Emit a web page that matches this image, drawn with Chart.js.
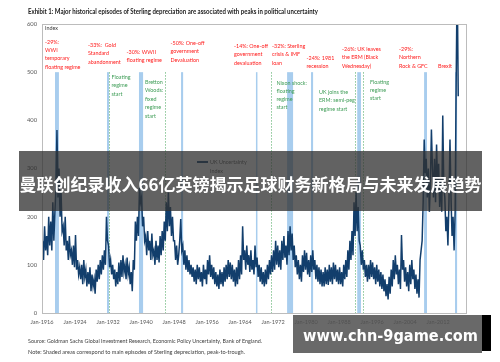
<!DOCTYPE html>
<html><head><meta charset="utf-8">
<script src="https://cdn.jsdelivr.net/npm/chart.js@4/dist/chart.umd.min.js"></script>
<style>
html,body{margin:0;padding:0;background:#fff;}
#wrap{position:relative;width:500px;height:362px;overflow:hidden;font-family:Lato,"Liberation Sans",sans-serif;}
#c{position:absolute;left:0;top:0;}
.t{position:absolute;white-space:nowrap;transform-origin:0 0;}
.ann{position:absolute;white-space:nowrap;font-size:5.4px;line-height:8.4px;}
.red{color:#ff1a1a;}
.grn{color:#3f9d57;}
#banner{position:absolute;left:19px;top:151px;width:463px;height:60px;background:rgba(48,48,48,0.76);}
#bannerTxt{position:absolute;left:19px;top:172px;width:463px;text-align:center;color:#fff;font-family:"Noto Sans CJK SC",sans-serif;font-weight:700;font-size:17px;line-height:24px;white-space:nowrap;}
#wm{position:absolute;left:293px;top:315px;width:189px;height:38px;background:rgba(80,80,80,0.86);}
#wmBlack{position:absolute;left:482px;top:315px;width:9px;height:36px;background:#000;}
#wmTxt{position:absolute;left:303px;top:326px;color:#fff;font-family:"DejaVu Sans",sans-serif;font-weight:700;font-size:16px;line-height:20px;white-space:nowrap;transform-origin:0 0;}
</style></head><body>
<div id="wrap">
<canvas id="c" width="500" height="362"></canvas>
<div class="t" id="title" data-w="290" style="left:28px;top:7px;font-size:7px;font-weight:700;color:#1a1a1a;">Exhibit 1: Major historical episodes of Sterling depreciation are associated with peaks in political uncertainty</div>
<div class="t" data-w="234" style="left:28px;top:336.5px;font-size:5.8px;color:#404040;">Source: Goldman Sachs Global Investment Research, Economic Policy Uncertainty, Bank of England.</div>
<div class="t" data-w="217" style="left:28px;top:347.5px;font-size:5.8px;color:#404040;">Note: Shaded areas correspond to main episodes of Sterling depreciation, peak-to-trough.</div>

<div class="ann" style="left:45px;top:24px;color:#404040;">Index</div>

<div class="ann red" style="left:45px;top:37.5px;">-29%:<br>WWI<br>temporary<br>floating regime</div>
<div class="ann red" style="left:88px;top:40.8px;">-33%:&nbsp; Gold<br>Standard<br>abandonment</div>
<div class="ann red" style="left:126.5px;top:48px;">-30%: WWII<br>floating regime</div>
<div class="ann red" style="left:170.5px;top:39px;">-50%: One-off<br>government<br>Devaluation</div>
<div class="ann red" style="left:234px;top:41.8px;">-14%: One-off<br>government<br>devaluation</div>
<div class="ann red" style="left:272px;top:41.8px;">-32%: Sterling<br>crisis &amp; IMF<br>loan</div>
<div class="ann red" style="left:306.5px;top:54px;">-24%: 1981<br>recession</div>
<div class="ann red" style="left:342px;top:45px;">-26%: UK leaves<br>the ERM (Black<br>Wednesday)</div>
<div class="ann red" style="left:399px;top:45px;">-29%:<br>Northern<br>Rock &amp; GFC</div>
<div class="ann red" style="left:438px;top:61.5px;">Brexit</div>

<div class="ann grn" style="left:111.5px;top:72.5px;line-height:8.8px;">Floating<br>regime<br>start</div>
<div class="ann grn" style="left:145px;top:77.5px;line-height:8.5px;">Bretton<br>Woods:<br>fixed<br>regime<br>start</div>
<div class="ann grn" style="left:276.5px;top:78.5px;line-height:8.2px;">Nixon shock:<br>floating<br>regime<br>start</div>
<div class="ann grn" style="left:319px;top:88px;line-height:8.3px;">UK joins the<br>ERM: semi-peg<br>regime start</div>
<div class="ann grn" style="left:370px;top:77.5px;line-height:8.3px;">Floating<br>regime<br>start</div>

<div id="banner"></div>
<div id="bannerTxt">曼联创纪录收入66亿英镑揭示足球财务新格局与未来发展趋势</div>
<div id="wm"></div>
<div id="wmBlack"></div>
<div id="wmTxt" data-w="175">www.chn-9game.com</div>
</div>
<script>
// ---- data ----
const startYear = 1916;
const pointsPerYear = 4;
const uncertainty = [
 150,110,180,130, 160,120,200,140, 190,130,230,150, 210,260,380,240, 300,200,250,170,
 180,140,200,130, 150,110,160,120, 130,100,140,95,  162,90,110,80,   95,70,100,60,
 110,75,90,55,    85,60,95,45,     80,55,70,40,     90,65,100,70,    110,80,120,90,
 130,100,200,150, 140,95,110,80,   100,70,90,55,    85,60,105,65,    110,75,120,85,
 100,70,115,80,   95,60,85,45,     110,90,190,150,  200,160,260,230, 240,180,200,150,
 160,120,170,130, 150,110,165,120, 130,100,150,110, 140,105,160,120, 170,130,190,150,
 230,170,250,180, 220,160,200,150, 150,110,140,100, 120,150,195,130, 140,100,130,90,
 120,85,110,80,   100,75,95,65,    90,60,100,70,    95,65,85,55,     100,70,90,60,
 110,80,120,75,   100,70,95,60,    85,55,80,50,     90,60,85,55,     95,65,100,70,
 110,75,105,70,   100,65,90,55,    95,60,110,70,    120,80,180,110,  130,90,140,100,
 120,85,130,90,   110,80,140,95,   115,75,100,65,   95,60,85,55,     90,60,100,70,
 110,80,120,85,   130,90,150,100,  140,95,130,90,   150,110,160,115, 140,100,170,120,
 180,130,165,110, 140,95,120,80,   110,70,100,65,   120,85,130,90,   125,80,110,75,
 120,85,130,90,   110,70,100,65,   95,60,90,55,     85,55,95,60,     90,58,100,65,
 95,60,105,70,    100,65,90,60,    95,60,85,55,     100,70,110,75,   130,90,150,110,
 170,120,230,160, 250,170,220,150, 140,100,130,90,  110,75,100,65,   100,70,110,75,
 105,70,95,60,    100,65,90,55,    85,50,80,45,     70,35,60,28,     75,40,90,55,
 110,70,120,80,   100,60,90,50,    162,90,110,65,   95,55,85,45,     100,60,110,70,
 90,50,80,40,     70,32,110,130,   150,230,360,290, 320,240,300,210, 270,381,300,240,
 320,230,350,260, 310,220,280,210, 410,260,240,170, 200,140,230,360, 240,160,200,130,
 210,480,700,450
];
const tickYears = [1916,1924,1932,1940,1948,1956,1964,1972,1980,1988,1996,2004,2012];
const depreciationBands = [
 [1919.15,1920.1],[1931.75,1932.25],[1939.5,1940.5],[1949.7,1950.2],[1967.85,1968.15],
 [1975.4,1976.85],[1981.2,1981.7],[1992.4,1993.3],[2008.6,2009.3],[2016.1,2016.6]
];
const regimeStartYears = [1932.2,1945.7,1971.5,1991.9,1993.8];
const bandTop = 500;

const pts = uncertainty.map((v,i)=>({x:startYear + (i+0.5)/pointsPerYear, y:v}));

const deco = {
 id:'deco',
 beforeDatasetsDraw(chart){
  const {ctx, chartArea:a, scales:{x,y}} = chart;
  ctx.save();
  ctx.beginPath(); ctx.rect(a.left,a.top,a.right-a.left,a.bottom-a.top); ctx.clip();
  const yt = y.getPixelForValue(bandTop), yb = y.getPixelForValue(0);
  ctx.fillStyle = '#a8cdee';
  depreciationBands.forEach(([s,e])=>{
    const x1 = x.getPixelForValue(s), x2 = x.getPixelForValue(e);
    ctx.fillRect(x1, yt, Math.max(1.5,x2-x1), yb-yt);
  });
  ctx.strokeStyle = '#86c493';
  ctx.lineWidth = 1;
  ctx.setLineDash([1.5,1.5]);
  regimeStartYears.forEach(v=>{
    const px = Math.round(x.getPixelForValue(v))+0.5;
    ctx.beginPath(); ctx.moveTo(px,yt); ctx.lineTo(px,yb); ctx.stroke();
  });
  ctx.restore();
 },
 afterDraw(chart){
  const {ctx, chartArea:a} = chart;
  ctx.save();
  ctx.strokeStyle = '#bcbcbc';
  ctx.lineWidth = 1;
  ctx.strokeRect(Math.round(a.left)+0.5, Math.round(a.top)+0.5, Math.round(a.right-a.left)-1, Math.round(a.bottom-a.top));
  ctx.strokeStyle = '#123e6c'; ctx.lineWidth = 2;
  ctx.beginPath(); ctx.moveTo(197,162); ctx.lineTo(208,162); ctx.stroke();
  ctx.fillStyle = '#595959'; ctx.font = '5.4px Lato'; ctx.textBaseline = 'middle';
  ctx.fillText('UK Uncertainty', 210, 162);
  ctx.fillText('Index', 210, 171);
  ctx.restore();
 }
};

new Chart(document.getElementById('c'), {
 type:'line',
 data:{datasets:[{label:'UK Uncertainty Index', data:pts, borderColor:'#123e6c', borderWidth:1.5, pointRadius:0, tension:0, fill:false}]},
 options:{
  responsive:false, animation:false, devicePixelRatio:1,
  layout:{padding:{left:0,right:33,top:24,bottom:0}},
  plugins:{legend:{display:false}, tooltip:{enabled:false}},
  scales:{
   x:{type:'linear', min:1916, max:2019,
      grid:{display:false, drawTicks:false}, border:{display:false},
      afterBuildTicks:s=>{ s.ticks = tickYears.map(v=>({value:v})); },
      afterFit:s=>{ s.height = 49; },
      ticks:{autoSkip:false, maxRotation:0, padding:6, color:'#595959', font:{family:'Lato', size:5.6}, callback:v=>'Jan-'+v}},
   y:{min:0, max:600,
      grid:{display:false, drawTicks:false}, border:{display:false},
      afterFit:s=>{ s.width = 42; },
      ticks:{stepSize:100, padding:5, color:'#595959', font:{family:'Lato', size:5.8}}}
  }
 },
 plugins:[deco]
});

document.querySelectorAll('[data-w]').forEach(el=>{
  const w = el.getBoundingClientRect().width;
  const target = parseFloat(el.dataset.w);
  if (w>0) el.style.transform = 'scaleX(' + (target/w) + ')';
});
</script>
</body></html>
